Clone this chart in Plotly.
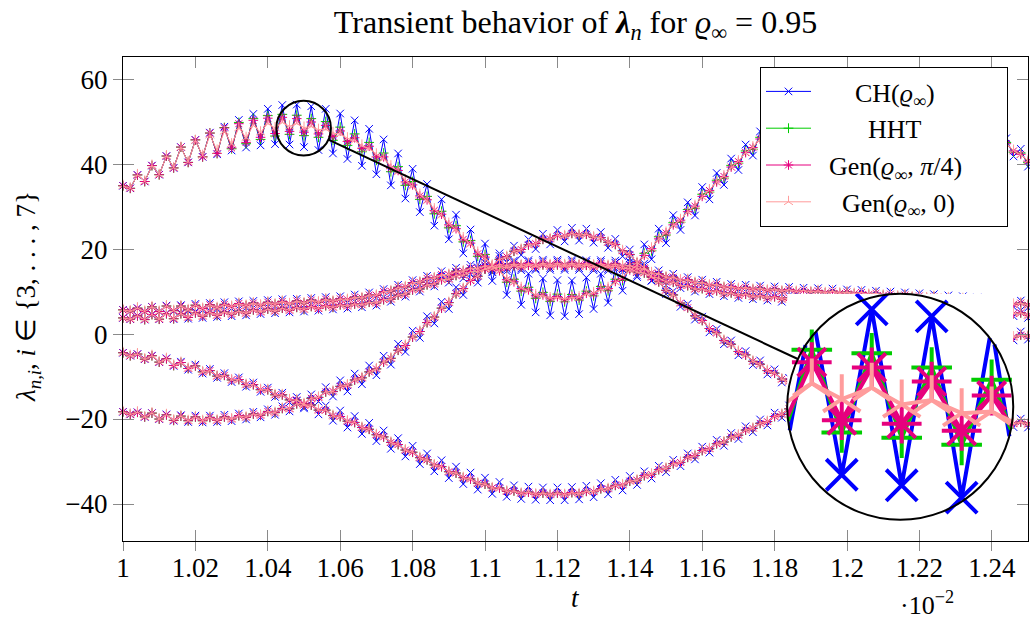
import math
import plotly.graph_objects as go

FONT = "Liberation Serif"

# ---------------- data (t shown in units of 1e-2) ----------------
T_FIRST = 1.0
T_STEP = 0.002
N = 126
t_vals = [round(T_FIRST + T_STEP * k, 4) for k in range(N)]

# centre lines of the five eigenvalue branches lambda_{n,i}
A_mid = [34.7, 35.3, 36.3, 37.2, 38.2, 39.1, 40.1, 41.0, 41.9, 42.6,
         43.4, 44.1, 44.7, 45.2, 45.8, 46.4, 47.0, 47.5, 48.0, 48.4,
         48.8, 49.1, 49.3, 49.3, 49.2, 48.9, 48.6, 48.3, 48.0, 47.5,
         46.9, 46.2, 45.4, 44.5, 43.5, 42.4, 41.1, 39.6, 38.0, 36.3,
         34.6, 32.9, 31.2, 29.5, 27.8, 26.1, 24.4, 22.7, 21.0, 19.3,
         17.7, 16.2, 14.6, 13.1, 12.0, 11.0, 10.1, 9.3, 8.9, 8.6,
         8.5, 8.4, 8.5, 8.8, 9.3, 9.8, 10.4, 11.0, 12.1, 13.4,
         14.8, 16.3, 18.3, 20.3, 22.2, 24.0, 25.5, 27.0, 28.6, 30.3,
         32.2, 34.0, 35.6, 37.3, 39.1, 40.8, 42.5, 44.1, 45.7, 47.3,
         48.8, 50.0, 51.1, 52.0, 52.8, 53.5, 54.2, 54.8, 55.4, 55.9,
         56.3, 56.6, 56.9, 57.1, 57.2, 57.2, 57.1, 56.9, 56.6, 56.2,
         55.7, 55.2, 54.6, 54.0, 53.3, 52.5, 51.6, 50.6, 49.5, 48.5,
         47.3, 46.0, 44.6, 43.3, 42.1, 40.9]

B_mid = [5.6, 5.7, 5.7, 5.8, 5.8, 5.9, 6.0, 6.1, 6.1, 6.2,
         6.3, 6.4, 6.5, 6.6, 6.7, 6.8, 6.9, 7.0, 7.0, 7.1,
         7.2, 7.3, 7.4, 7.4, 7.5, 7.6, 7.7, 7.8, 7.9, 8.0,
         8.1, 8.3, 8.5, 8.7, 9.0, 9.3, 9.8, 10.3, 10.8, 11.3,
         11.9, 12.4, 12.9, 13.4, 13.8, 14.2, 14.6, 15.0, 15.3, 15.6,
         15.9, 16.1, 16.2, 16.3, 16.3, 16.4, 16.4, 16.4, 16.5, 16.5,
         16.5, 16.5, 16.5, 16.5, 16.4, 16.4, 16.4, 16.3, 16.3, 16.2,
         16.0, 15.6, 15.1, 14.6, 14.0, 13.6, 13.2, 12.9, 12.6, 12.3,
         12.0, 11.7, 11.5, 11.2, 11.0, 10.9, 10.8, 10.7, 10.6, 10.5,
         10.4, 10.3, 10.3, 10.2, 10.1, 10.1, 10.0, 9.9, 9.9, 9.8,
         9.7, 9.7, 9.6, 9.5, 9.4, 9.3, 9.2, 9.1, 9.0, 8.9,
         8.8, 8.7, 8.6, 8.4, 8.3, 8.2, 8.1, 7.9, 7.8, 7.7,
         7.6, 7.5, 7.3, 7.2, 7.1, 7.0]

C_mid = [3.7, 3.8, 3.9, 3.9, 4.0, 4.1, 4.2, 4.2, 4.3, 4.4,
         4.5, 4.6, 4.7, 4.8, 4.9, 5.0, 5.1, 5.2, 5.4, 5.5,
         5.6, 5.7, 5.8, 5.9, 6.0, 6.1, 6.2, 6.3, 6.4, 6.6,
         6.7, 6.8, 6.9, 7.1, 7.3, 7.5, 7.9, 8.4, 9.0, 9.6,
         10.2, 10.8, 11.4, 12.0, 12.6, 13.1, 13.6, 14.1, 14.5, 14.9,
         15.2, 15.5, 15.7, 15.8, 15.9, 16.0, 16.0, 16.1, 16.1, 16.1,
         16.1, 16.1, 16.1, 16.1, 16.0, 16.0, 16.0, 15.9, 15.8, 15.6,
         15.3, 14.8, 14.2, 13.6, 13.0, 12.5, 12.0, 11.6, 11.2, 10.8,
         10.5, 10.2, 10.0, 9.7, 9.5, 9.3, 9.2, 9.0, 8.9, 8.7,
         8.6, 8.4, 8.3, 8.1, 8.0, 7.8, 7.6, 7.5, 7.4, 7.4,
         7.3, 7.2, 7.1, 7.1, 7.0, 6.9, 6.8, 6.8, 6.7, 6.6,
         6.5, 6.4, 6.3, 6.2, 6.1, 6.0, 5.9, 5.8, 5.7, 5.6,
         5.4, 5.3, 5.1, 5.0, 4.8, 4.6]

D_mid = [-4.5, -4.8, -5.1, -5.4, -5.7, -6.0, -6.4, -6.8, -7.2, -7.6,
         -8.0, -8.5, -9.0, -9.5, -10.0, -10.5, -11.0, -11.6, -12.2, -12.8,
         -13.4, -14.0, -14.6, -15.2, -15.8, -16.4, -17.0, -17.6, -18.2, -18.9,
         -19.6, -20.3, -21.0, -21.8, -22.6, -23.5, -24.4, -25.3, -26.2, -27.1,
         -28.0, -28.9, -29.8, -30.6, -31.4, -32.2, -32.9, -33.6, -34.3, -34.9,
         -35.5, -36.0, -36.4, -36.8, -37.1, -37.3, -37.4, -37.5, -37.6, -37.6,
         -37.6, -37.6, -37.5, -37.4, -37.2, -36.9, -36.6, -36.2, -35.8, -35.3,
         -34.8, -34.2, -33.5, -32.8, -32.1, -31.4, -30.7, -30.0, -29.2, -28.4,
         -27.6, -26.8, -26.0, -25.2, -24.4, -23.6, -22.8, -22.0, -21.2, -20.4,
         -19.6, -18.7, -17.8, -16.9, -16.0, -15.1, -14.2, -13.3, -12.4, -11.5,
         -10.6, -9.8, -9.0, -8.2, -7.5, -6.8, -6.1, -5.5, -4.9, -4.4,
         -3.9, -3.4, -3.0, -2.6, -2.3, -2.0, -1.7, -1.5, -1.3, -1.1,
         -0.9, -0.8, -0.6, -0.5, -0.4, -0.3]

E_mid = [-18.4, -18.6, -18.8, -19.0, -19.2, -19.4, -19.6, -19.7, -19.8, -19.9,
         -20.0, -20.0, -20.0, -19.9, -19.8, -19.7, -19.5, -19.3, -19.1, -18.8,
         -18.5, -18.2, -17.8, -17.3, -16.7, -16.1, -15.4, -14.6, -13.9, -13.2,
         -12.5, -11.8, -11.0, -10.1, -9.1, -8.0, -6.8, -5.5, -4.0, -2.5,
         -0.9, 0.8, 2.5, 4.2, 5.9, 7.6, 9.3, 10.9, 12.4, 13.8,
         15.1, 16.3, 17.4, 18.4, 19.3, 20.1, 20.8, 21.5, 22.1, 22.6,
         23.0, 23.3, 23.5, 23.5, 23.3, 23.0, 22.5, 21.8, 20.9, 19.8,
         18.5, 17.0, 15.4, 13.7, 12.1, 10.5, 9.0, 7.5, 6.0, 4.5,
         3.0, 1.5, 0.1, -1.3, -2.6, -3.9, -5.1, -6.2, -7.3, -8.4,
         -9.4, -10.4, -11.3, -12.2, -13.0, -13.8, -14.5, -15.2, -15.8, -16.4,
         -16.9, -17.4, -17.8, -18.2, -18.6, -18.9, -19.2, -19.5, -19.7, -19.9,
         -20.1, -20.2, -20.3, -20.4, -20.5, -20.6, -20.6, -20.7, -20.7, -20.8,
         -20.8, -20.8, -20.9, -20.9, -20.9, -21.0]

# half peak-to-peak of the step-to-step (sawtooth) oscillation, read per sample
A_amp_CH = [0.2, 1.0, 1.15, 1.3, 1.45, 1.6, 1.8, 1.9, 2.1, 2.2,
            2.3, 2.4, 2.7, 2.9, 3.0, 3.2, 3.4, 3.6, 3.8, 4.0,
            4.2, 4.4, 4.6, 4.7, 4.8, 4.9, 5.0, 5.0, 5.0, 5.0,
            5.0, 5.0, 4.9, 4.9, 4.8, 4.8, 4.7, 4.6, 4.5, 4.4,
            4.3, 4.2, 4.1, 4.0, 3.9, 3.8, 3.7, 3.7, 3.6, 3.6,
            3.6, 3.7, 3.8, 3.9, 4.0, 4.1, 4.1, 4.2, 4.2, 4.2,
            4.2, 4.2, 4.1, 4.1, 4.0, 3.9, 3.8, 3.6, 3.4, 3.2,
            3.0, 2.9, 2.8, 2.7, 2.6, 2.6, 2.5, 2.5, 2.4, 2.4,
            2.4, 2.3, 2.3, 2.2, 2.2, 2.2, 2.1, 2.1, 2.0, 2.0,
            2.0, 2.0, 1.9, 1.9, 1.9, 1.9, 1.8, 1.8, 1.8, 1.8,
            1.8, 1.7, 1.7, 1.7, 1.7, 1.7, 1.7, 1.6, 1.6, 1.6,
            1.6, 1.6, 1.6, 1.6, 1.6, 1.5, 1.5, 1.5, 1.5, 1.5,
            1.5, 1.5, 1.5, 1.5, 1.5, 1.5]

A_amp_HHT = [0.2, 1.0, 1.15, 1.3, 1.45, 1.6, 1.8, 1.9, 2.1, 2.2,
             2.3, 2.4, 2.6, 2.7, 2.8, 2.8, 2.8, 2.7, 2.7, 2.6,
             2.6, 2.5, 2.4, 2.3, 2.3, 2.2, 2.1, 2.0, 2.0, 1.9,
             1.8, 1.8, 1.7, 1.6, 1.6, 1.5, 1.5, 1.4, 1.4, 1.3,
             1.3, 1.2, 1.2, 1.2, 1.1, 1.1, 1.1, 1.0, 1.0, 1.0,
             1.0, 0.9, 0.9, 0.9, 0.9, 0.9, 0.9, 0.9, 0.9, 0.9,
             0.9, 0.8, 0.8, 0.8, 0.8, 0.8, 0.8, 0.8, 0.8, 0.8,
             0.8, 0.7, 0.7, 0.7, 0.7, 0.7, 0.7, 0.7, 0.7, 0.7,
             0.7, 0.6, 0.6, 0.6, 0.6, 0.6, 0.6, 0.6, 0.6, 0.6,
             0.6, 0.6, 0.6, 0.6, 0.6, 0.6, 0.5, 0.5, 0.5, 0.5,
             0.5, 0.5, 0.5, 0.5, 0.5, 0.5, 0.5, 0.5, 0.5, 0.5,
             0.5, 0.5, 0.5, 0.5, 0.5, 0.5, 0.5, 0.5, 0.5, 0.5,
             0.5, 0.5, 0.5, 0.5, 0.5, 0.5]

A_amp_Gpi4 = [0.2, 1.0, 1.15, 1.3, 1.45, 1.6, 1.8, 1.9, 2.1, 2.2,
              2.3, 2.4, 2.6, 2.7, 2.7, 2.6, 2.5, 2.4, 2.3, 2.1,
              2.0, 1.9, 1.7, 1.6, 1.5, 1.4, 1.3, 1.2, 1.1, 1.0,
              0.9, 0.9, 0.8, 0.8, 0.7, 0.7, 0.6, 0.6, 0.5, 0.5,
              0.5, 0.4, 0.4, 0.4, 0.4, 0.4, 0.4, 0.4, 0.4, 0.4,
              0.4, 0.3, 0.3, 0.3, 0.3, 0.3, 0.3, 0.3, 0.3, 0.3,
              0.3, 0.3, 0.3, 0.3, 0.3, 0.3, 0.3, 0.3, 0.3, 0.3,
              0.3, 0.2, 0.2, 0.2, 0.2, 0.2, 0.2, 0.2, 0.2, 0.2,
              0.2, 0.2, 0.2, 0.2, 0.2, 0.2, 0.2, 0.2, 0.2, 0.2,
              0.2, 0.2, 0.2, 0.2, 0.2, 0.2, 0.2, 0.2, 0.2, 0.2,
              0.2, 0.2, 0.2, 0.2, 0.2, 0.2, 0.2, 0.2, 0.2, 0.2,
              0.2, 0.2, 0.2, 0.2, 0.2, 0.2, 0.2, 0.2, 0.2, 0.2,
              0.2, 0.2, 0.2, 0.2, 0.2, 0.2]

A_amp_G0 = [0.2, 1.0, 1.15, 1.3, 1.45, 1.6, 1.8, 1.9, 2.0, 2.1,
            2.1, 2.1, 2.1, 2.0, 1.9, 1.7, 1.5, 1.3, 1.1, 0.9,
            0.75, 0.6, 0.5, 0.4, 0.35, 0.3, 0.25, 0.2, 0.2, 0.15,
            0.15, 0.1, 0.1, 0.1, 0.1, 0.1, 0.1, 0.1, 0.1, 0.1,
            0.1, 0.1, 0.1, 0.1, 0.1, 0.1, 0.1, 0.1, 0.1, 0.1,
            0.1, 0.1, 0.1, 0.1, 0.1, 0.1, 0.1, 0.1, 0.1, 0.1,
            0.1, 0.1, 0.1, 0.1, 0.1, 0.1, 0.1, 0.1, 0.1, 0.1,
            0.1, 0.1, 0.1, 0.1, 0.1, 0.1, 0.1, 0.1, 0.1, 0.1,
            0.1, 0.1, 0.1, 0.1, 0.1, 0.1, 0.1, 0.1, 0.1, 0.1,
            0.1, 0.1, 0.1, 0.1, 0.1, 0.1, 0.1, 0.1, 0.1, 0.1,
            0.1, 0.1, 0.1, 0.1, 0.1, 0.1, 0.1, 0.1, 0.1, 0.1,
            0.1, 0.1, 0.1, 0.1, 0.1, 0.1, 0.1, 0.1, 0.1, 0.1,
            0.1, 0.1, 0.1, 0.1, 0.1, 0.1]

BC_amp_CH = [0.1, 0.3, 0.4, 0.5, 0.6, 0.6, 0.7, 0.7, 0.7, 0.8,
             0.8, 0.8, 0.8, 0.8, 0.8, 0.8, 0.8, 0.8, 0.8, 0.8,
             0.8, 0.8, 0.8, 0.8, 0.8, 0.8, 0.8, 0.8, 0.8, 0.8,
             0.8, 0.8, 0.8, 0.8, 0.8, 0.8, 0.8, 0.8, 0.8, 0.8,
             0.8, 0.8, 0.8, 0.8, 1.0, 1.0, 1.0, 1.0, 1.0, 1.0,
             1.0, 1.0, 1.0, 1.0, 1.0, 1.0, 1.0, 1.0, 1.0, 1.0,
             1.0, 1.0, 1.0, 1.0, 1.0, 1.0, 1.0, 1.0, 1.0, 1.0,
             1.0, 1.0, 1.0, 1.0, 1.0, 1.0, 1.0, 0.8, 0.8, 0.8,
             0.8, 0.8, 0.8, 0.8, 0.8, 0.8, 0.8, 0.8, 0.8, 0.8,
             0.8, 0.8, 0.8, 0.8, 0.8, 0.8, 0.8, 0.8, 0.8, 0.8,
             0.8, 0.8, 0.8, 0.8, 0.8, 0.8, 0.8, 0.8, 0.8, 0.8,
             0.8, 0.8, 0.8, 0.8, 0.8, 0.8, 0.8, 0.8, 0.8, 0.8,
             0.8, 0.8, 0.8, 0.8, 0.8, 0.8]

DE_amp_CH = [0.1, 0.3, 0.4, 0.5, 0.6, 0.6, 0.7, 0.7, 0.7, 0.8,
             0.8, 0.8, 0.8, 0.8, 0.8, 0.8, 0.8, 0.8, 0.8, 0.8,
             0.8, 0.8, 0.8, 0.9, 1.0, 1.1, 1.2, 1.3, 1.4, 1.5,
             1.6, 1.7, 1.7, 1.7, 1.7, 1.7, 1.7, 1.7, 1.7, 1.7,
             1.7, 1.7, 1.7, 1.7, 1.7, 1.7, 1.7, 1.7, 1.7, 1.7,
             1.7, 1.6, 1.6, 1.5, 1.5, 1.5, 1.5, 1.5, 1.5, 1.5,
             1.5, 1.5, 1.5, 1.5, 1.5, 1.5, 1.5, 1.5, 1.5, 1.5,
             1.4, 1.3, 1.2, 1.2, 1.1, 1.1, 1.1, 1.1, 1.1, 1.1,
             1.1, 1.1, 1.1, 1.1, 1.1, 1.1, 1.1, 1.1, 1.1, 1.1,
             1.1, 1.0, 1.0, 1.0, 1.0, 1.0, 1.0, 1.0, 1.0, 1.0,
             1.0, 1.0, 1.0, 1.0, 1.0, 1.0, 1.0, 1.0, 1.0, 1.0,
             1.0, 1.0, 1.0, 1.0, 1.0, 1.0, 1.0, 1.0, 1.0, 1.0,
             1.0, 1.0, 1.0, 1.0, 1.0, 1.0]

BCDE_amp_damped = [0.1, 0.3, 0.4, 0.5, 0.6, 0.6, 0.6, 0.6, 0.5, 0.5,
                   0.5, 0.4, 0.4, 0.4, 0.3, 0.3, 0.3, 0.3, 0.3, 0.3,
                   0.3, 0.3, 0.3, 0.3, 0.3, 0.3, 0.3, 0.3, 0.3, 0.3,
                   0.2, 0.2, 0.2, 0.2, 0.2, 0.2, 0.2, 0.2, 0.2, 0.2,
                   0.2, 0.2, 0.2, 0.2, 0.2, 0.2, 0.2, 0.2, 0.2, 0.2,
                   0.2, 0.2, 0.2, 0.2, 0.2, 0.2, 0.2, 0.2, 0.2, 0.2,
                   0.2, 0.2, 0.2, 0.2, 0.2, 0.2, 0.2, 0.2, 0.2, 0.2,
                   0.2, 0.2, 0.2, 0.2, 0.2, 0.2, 0.2, 0.2, 0.2, 0.2,
                   0.2, 0.2, 0.2, 0.2, 0.2, 0.2, 0.2, 0.2, 0.2, 0.2,
                   0.2, 0.2, 0.2, 0.2, 0.2, 0.2, 0.2, 0.2, 0.2, 0.2,
                   0.2, 0.2, 0.2, 0.2, 0.2, 0.2, 0.2, 0.2, 0.2, 0.2,
                   0.2, 0.2, 0.2, 0.2, 0.2, 0.2, 0.2, 0.2, 0.2, 0.2,
                   0.2, 0.2, 0.2, 0.2, 0.2, 0.2]

for _arr in (A_mid, B_mid, C_mid, D_mid, E_mid, A_amp_CH, A_amp_HHT, A_amp_Gpi4,
             A_amp_G0, BC_amp_CH, DE_amp_CH, BCDE_amp_damped):
    assert len(_arr) == N, len(_arr)

x_ticks = [1, 1.02, 1.04, 1.06, 1.08, 1.1, 1.12, 1.14, 1.16, 1.18, 1.2, 1.22, 1.24]
y_ticks = [-40, -20, 0, 20, 40, 60]

# ---------------- geometry ----------------
W, H = 1030, 624
ML, MR, MT, MB = 123, 2, 57, 83
X_MIN, X_MAX = 1.0, 1.25
Y_MIN, Y_MAX = -48.7, 65.2
plot_w = W - ML - MR
plot_h = H - MT - MB
px_t = plot_w / (X_MAX - X_MIN)
px_v = plot_h / (Y_MAX - Y_MIN)

# spy (magnifier): source centre, target centre, radius (px), magnification
spy_src = (1.0499, 48.46)
spy_dst = (1.2147, -17.13)
spy_r = 27.3
spy_mag = 4.14

parity = [1 if k % 2 == 0 else -1 for k in range(N)]


def osc(mid, amp):
    return [m + p * a for m, p, a in zip(mid, parity, amp)]


NB = "\u00a0"
mids = [A_mid, B_mid, C_mid, D_mid, E_mid]
damp5 = [BCDE_amp_damped] * 4
methods = [
    dict(name=NB * 6 + "CH(<i>ϱ</i><sub>∞</sub>)", color="#0000ff", symbol="x-thin", size=7.5,
         amps=[A_amp_CH, BC_amp_CH, BC_amp_CH, DE_amp_CH, DE_amp_CH]),
    dict(name=NB * 8 + "HHT<sub>" + NB + "</sub>", color="#00cc00", symbol="cross-thin", size=7,
         amps=[A_amp_HHT] + damp5),
    dict(name=NB * 2 + "Gen(<i>ϱ</i><sub>∞</sub>, <i>π</i>/4)" + NB * 6, color="#e6007e",
         symbol="asterisk", size=8, amps=[A_amp_Gpi4] + damp5),
    dict(name=NB * 4 + "Gen(<i>ϱ</i><sub>∞</sub>, 0)", color="#ff9c9c", symbol="y-up", size=7.5,
         amps=[A_amp_G0] + damp5),
]


def clip_circle(xs, ys, cx, cy, rx, ry):
    lx, ly, mx, my = [], [], [], []
    open_piece = False
    n = len(xs)
    for i in range(n):
        x, y = xs[i], ys[i]
        if x is None or y is None:
            open_piece = False
            continue
        if ((x - cx) / rx) ** 2 + ((y - cy) / ry) ** 2 <= 1.0:
            mx.append(x)
            my.append(y)
        if i + 1 < n and xs[i + 1] is not None and ys[i + 1] is not None:
            x1, y1 = xs[i + 1], ys[i + 1]
            u0, w0 = (x - cx) / rx, (y - cy) / ry
            du, dw = (x1 - x) / rx, (y1 - y) / ry
            a = du * du + dw * dw
            b = 2 * (u0 * du + w0 * dw)
            c = u0 * u0 + w0 * w0 - 1
            disc = b * b - 4 * a * c
            if a == 0 or disc <= 0:
                open_piece = False
                continue
            sq = math.sqrt(disc)
            s_in = max(0.0, (-b - sq) / (2 * a))
            s_out = min(1.0, (-b + sq) / (2 * a))
            if s_in >= s_out:
                open_piece = False
                continue
            if not (open_piece and s_in == 0.0):
                if lx:
                    lx.append(None)
                    ly.append(None)
                lx.append(x + s_in * (x1 - x))
                ly.append(y + s_in * (y1 - y))
            lx.append(x + s_out * (x1 - x))
            ly.append(y + s_out * (y1 - y))
            open_piece = (s_out == 1.0)
        else:
            open_piece = False
    return lx, ly, mx, my


# inset ranges (source region)
r_t = spy_r / px_t
r_v = spy_r / px_v
R_t = r_t * spy_mag
R_v = r_v * spy_mag

fig = go.Figure()
inset_traces = []
for m in methods:
    xs, ys = [], []
    for mid, amp in zip(mids, m["amps"]):
        if xs:
            xs.append(None)
            ys.append(None)
        xs += t_vals
        ys += osc(mid, amp)
    fig.add_trace(go.Scatter(
        x=xs, y=ys, mode="lines+markers", name=m["name"], cliponaxis=False,
        line=dict(color=m["color"], width=1),
        marker=dict(symbol=m["symbol"], size=m["size"], color=m["color"],
                    line=dict(color=m["color"], width=1)),
        hoverinfo="skip"))
    lx, ly, mx, my = clip_circle(xs, ys, spy_src[0], spy_src[1], r_t, r_v)
    inset_traces.append(go.Scatter(
        x=lx, y=ly, mode="lines", xaxis="x2", yaxis="y2", showlegend=False,
        line=dict(color=m["color"], width=4), hoverinfo="skip"))
    inset_traces.append(go.Scatter(
        x=mx, y=my, mode="markers", xaxis="x2", yaxis="y2", showlegend=False,
        marker=dict(symbol=m["symbol"], size=m["size"] * spy_mag, color=m["color"],
                    line=dict(color=m["color"], width=4)),
        hoverinfo="skip"))
for tr in inset_traces:
    fig.add_trace(tr)

# dummy traces so that overlay axes (inside tick marks) are drawn
fig.add_trace(go.Scatter(x=[], y=[], xaxis="x3", yaxis="y", showlegend=False, hoverinfo="skip"))
fig.add_trace(go.Scatter(x=[], y=[], xaxis="x", yaxis="y3", showlegend=False, hoverinfo="skip"))

TICKC = "#8a8a8a"
tickfont = dict(family=FONT, size=27, color="black")
fig.update_layout(
    width=W, height=H,
    margin=dict(l=ML, r=MR, t=MT, b=MB, autoexpand=False),
    paper_bgcolor="white", plot_bgcolor="white",
    showlegend=True,
    xaxis=dict(range=[X_MIN, X_MAX], tickmode="array", tickvals=x_ticks,
               ticktext=[f"{v:g}" for v in x_ticks], showgrid=False, zeroline=False,
               showline=True, linecolor="black", linewidth=1, mirror=True, automargin=False,
               ticks="outside", ticklen=9, tickwidth=1, tickcolor=TICKC, tickfont=tickfont,
               ticklabelstandoff=-6),
    yaxis=dict(range=[Y_MIN, Y_MAX], tickmode="array", tickvals=y_ticks,
               ticktext=[f"{v:g}".replace("-", "\u2212") for v in y_ticks],
               showgrid=False, zeroline=False, automargin=False,
               showline=True, linecolor="black", linewidth=1, mirror=True,
               ticks="outside", ticklen=9, tickwidth=1, tickcolor=TICKC, tickfont=tickfont),
    xaxis3=dict(overlaying="x", anchor="y", side="bottom", range=[X_MIN, X_MAX],
                tickmode="array", tickvals=x_ticks, showticklabels=False, automargin=False,
                showgrid=False, zeroline=False, showline=False,
                ticks="inside", ticklen=11, tickwidth=1, tickcolor=TICKC, mirror="ticks"),
    yaxis3=dict(overlaying="y", anchor="x", side="left", range=[Y_MIN, Y_MAX],
                tickmode="array", tickvals=y_ticks, showticklabels=False, automargin=False,
                showgrid=False, zeroline=False, showline=False,
                ticks="inside", ticklen=11, tickwidth=1, tickcolor=TICKC, mirror="ticks"),
    xaxis2=dict(domain=[(spy_dst[0] - R_t - X_MIN) / (X_MAX - X_MIN),
                        (spy_dst[0] + R_t - X_MIN) / (X_MAX - X_MIN)],
                range=[spy_src[0] - r_t, spy_src[0] + r_t], anchor="y2", visible=False),
    yaxis2=dict(domain=[(spy_dst[1] - R_v - Y_MIN) / (Y_MAX - Y_MIN),
                        (spy_dst[1] + R_v - Y_MIN) / (Y_MAX - Y_MIN)],
                range=[spy_src[1] - r_v, spy_src[1] + r_v], anchor="x2", visible=False),
    legend=dict(x=(1008 - ML) / plot_w, y=1 - (67 - MT) / plot_h, xanchor="right", yanchor="top",
                bgcolor="white", bordercolor="black", borderwidth=1,
                font=dict(family=FONT, size=26, color="black"), itemwidth=45,
                tracegroupgap=0),
    title=dict(text="Transient behavior of <b><i>λ</i></b><sub><i>n</i></sub> for <i>ϱ</i><sub>∞</sub> = 0.95",
               x=0.5, xref="paper", xanchor="center", y=1 - 22 / H, yref="container",
               yanchor="middle", font=dict(family=FONT, size=32, color="black")),
)

# magnifier decorations
dx = (spy_dst[0] - spy_src[0]) * px_t
dy = (spy_dst[1] - spy_src[1]) * px_v
L = math.hypot(dx, dy)
ux, uy = dx / L, dy / L
line_start = (spy_src[0] + ux * spy_r / px_t, spy_src[1] + uy * spy_r / px_v)
line_end = (spy_dst[0] - ux * spy_r * spy_mag / px_t, spy_dst[1] - uy * spy_r * spy_mag / px_v)

fig.add_shape(type="circle", xref="x2", yref="y2",
              x0=spy_src[0] - r_t, x1=spy_src[0] + r_t, y0=spy_src[1] - r_v, y1=spy_src[1] + r_v,
              fillcolor="white", line=dict(width=0), layer="below")
fig.add_shape(type="circle", xref="x", yref="y",
              x0=spy_dst[0] - R_t, x1=spy_dst[0] + R_t, y0=spy_dst[1] - R_v, y1=spy_dst[1] + R_v,
              line=dict(color="black", width=2), layer="above")
fig.add_shape(type="circle", xref="x", yref="y",
              x0=spy_src[0] - r_t, x1=spy_src[0] + r_t, y0=spy_src[1] - r_v, y1=spy_src[1] + r_v,
              line=dict(color="black", width=2), layer="above")
fig.add_shape(type="line", xref="x", yref="y",
              x0=line_start[0], y0=line_start[1], x1=line_end[0], y1=line_end[1],
              line=dict(color="black", width=2), layer="above")

fig.add_annotation(text="<i>t</i>", xref="paper", yref="paper", x=(575 - ML) / plot_w,
                   y=-(598 - (MT + plot_h)) / plot_h, showarrow=False,
                   xanchor="center", yanchor="middle", font=dict(family=FONT, size=27, color="black"))
fig.add_annotation(text="·10<sup>−2</sup>", xref="paper", yref="paper", x=(927 - ML) / plot_w,
                   y=-(603 - (MT + plot_h)) / plot_h, showarrow=False,
                   xanchor="center", yanchor="middle", font=dict(family=FONT, size=26, color="black"))
fig.add_annotation(text="<i>λ</i><sub><i>n,i</i></sub>, <i>i</i> ∈ {3, . . . , 7}", xref="paper", yref="paper",
                   x=(28 - ML) / plot_w, y=1 - (297 - MT) / plot_h, showarrow=False, textangle=-90,
                   xanchor="center", yanchor="middle", font=dict(family=FONT, size=27, color="black"))

fig.write_html("out.html", config={"responsive": False, "displayModeBar": False},
               post_script="document.body.style.margin='0';document.body.style.overflow='hidden';")
